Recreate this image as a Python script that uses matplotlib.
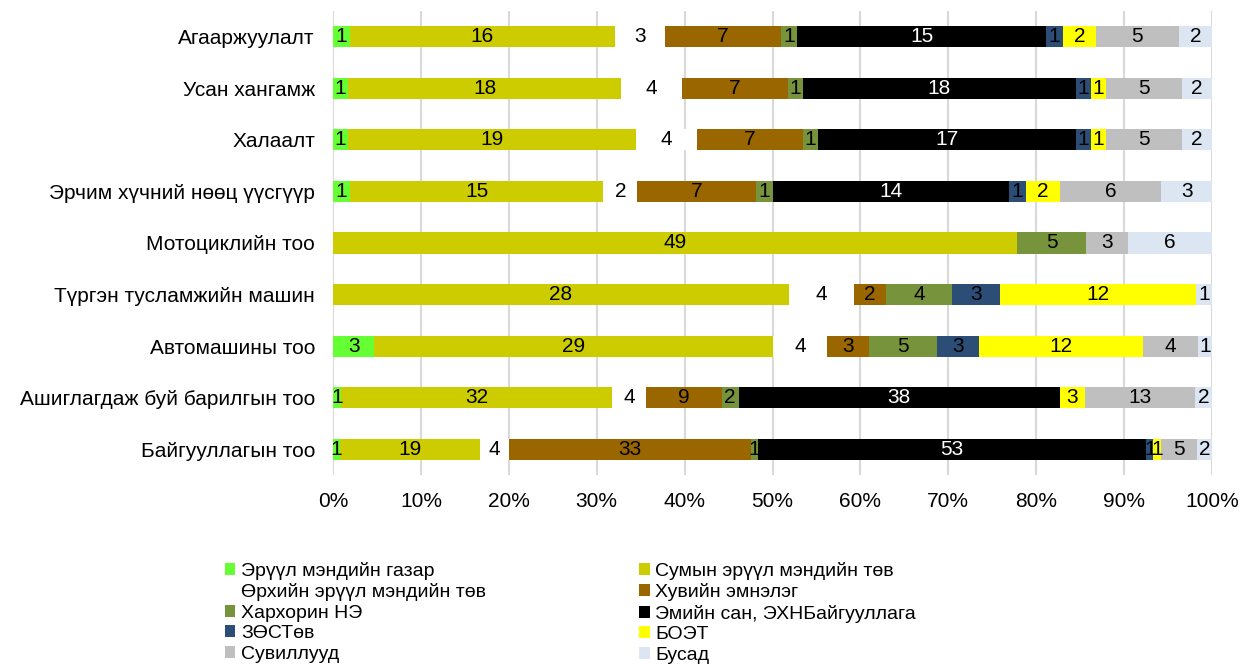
import matplotlib.pyplot as plt
from matplotlib.patches import Patch
import numpy as np

plt.rcParams['font.family'] = ['Liberation Sans', 'DejaVu Sans']

# categories, top to bottom
categories = [
    'Агааржуулалт',
    'Усан хангамж',
    'Халаалт',
    'Эрчим хүчний нөөц үүсгүүр',
    'Мотоциклийн тоо',
    'Түргэн тусламжийн машин',
    'Автомашины тоо',
    'Ашиглагдаж буй барилгын тоо',
    'Байгууллагын тоо',
]

series_names = [
    'Эрүүл мэндийн газар',
    'Сумын эрүүл мэндийн төв',
    'Өрхийн эрүүл мэндийн төв',
    'Хувийн эмнэлэг',
    'Хархорин НЭ',
    'Эмийн сан, ЭХНБайгууллага',
    'ЗӨСТөв',
    'БОЭТ',
    'Сувиллууд',
    'Бусад',
]

# one list per series, values in category order above
emg = [1, 1, 1, 1, 0, 0, 3, 1, 1]
semt = [16, 18, 19, 15, 49, 28, 29, 32, 19]
oemt = [3, 4, 4, 2, 0, 4, 4, 4, 4]
khuviin = [7, 7, 7, 7, 0, 2, 3, 9, 33]
kharkhorin = [1, 1, 1, 1, 5, 4, 5, 2, 1]
emiin_san = [15, 18, 17, 14, 0, 0, 0, 38, 53]
zost = [1, 1, 1, 1, 0, 3, 3, 0, 1]
boet = [2, 1, 1, 2, 0, 12, 12, 3, 1]
suvilal = [5, 5, 5, 6, 3, 0, 4, 13, 5]
busad = [2, 2, 2, 3, 6, 1, 1, 2, 2]

series_values = [emg, semt, oemt, khuviin, kharkhorin, emiin_san, zost, boet, suvilal, busad]
colors = ['#66FF33', '#CCCC00', '#FFFFFF', '#996600', '#77933C',
          '#000000', '#2C4D75', '#FFFF00', '#BFBFBF', '#DCE6F2']
label_colors = ['black'] * 10
label_colors[5] = 'white'

data = np.array(series_values, dtype=float)
totals = data.sum(axis=0)
pct = data / totals * 100

fig = plt.figure(figsize=(12.41, 6.64), dpi=100)
ax = fig.add_axes([333 / 1241, 1 - 475 / 664, 879 / 1241, 464 / 664])

y = np.arange(len(categories))
left = np.zeros(len(categories))
for i in range(len(series_names)):
    ax.barh(y, pct[i], left=left, height=0.41, color=colors[i], zorder=2)
    for j in range(len(categories)):
        if data[i, j] > 0:
            ax.text(left[j] + pct[i, j] / 2, y[j], str(int(data[i, j])),
                    ha='center', va='center', fontsize=15,
                    color=label_colors[i], zorder=3)
    left += pct[i]

ax.set_xlim(0, 100)
ax.set_ylim(len(categories) - 0.5, -0.5)
ax.set_yticks(y)
ax.set_yticklabels(categories, fontsize=15)
ax.set_xticks(np.arange(0, 101, 10))
ax.set_xticklabels([f'{v}%' for v in range(0, 101, 10)], fontsize=15)
ax.tick_params(length=0)
ax.tick_params(axis='y', pad=13)
ax.tick_params(axis='x', pad=12)
ax.grid(axis='x', color='#D9D9D9', linewidth=1.5, zorder=0)
for s in ax.spines.values():
    s.set_visible(False)

# legend: row-wise order in two columns
handles = [Patch(facecolor=c, edgecolor='none') for c in colors]
order = [0, 2, 4, 6, 8, 1, 3, 5, 7, 9]
fig.legend([handles[k] for k in order], [series_names[k] for k in order],
           ncol=2, frameon=False, fontsize=14,
           loc='upper left', bbox_to_anchor=(215 / 1241, 1 - 552 / 664),
           handlelength=0.55, handleheight=0.55, handletextpad=0.3,
           labelspacing=0.18, columnspacing=7.85, borderpad=0)

plt.savefig('out.png', dpi=100)
